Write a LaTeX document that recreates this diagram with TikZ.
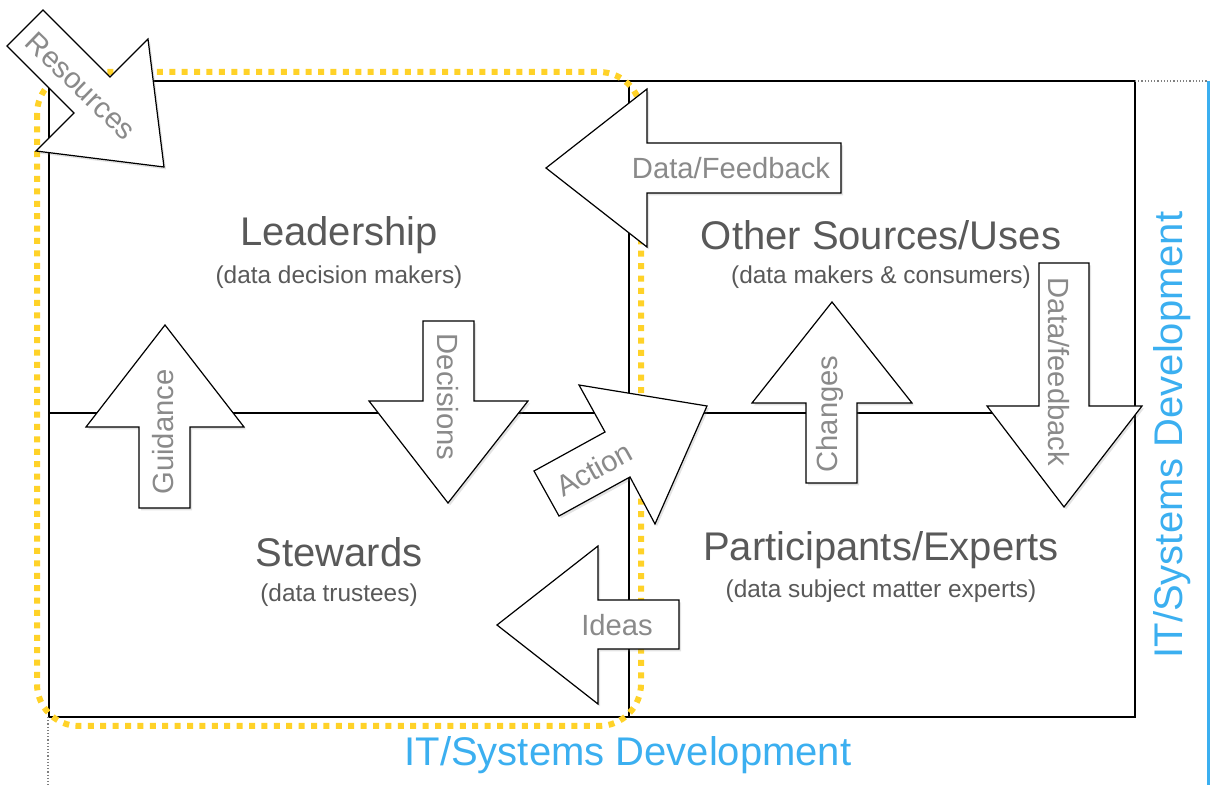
\documentclass[tikz,border=0pt]{standalone}
\usepackage{fontspec}
\setmainfont{Liberation Sans}
\usetikzlibrary{shadows}

\definecolor{titlegray}{HTML}{595959}
\definecolor{labelgray}{HTML}{8A8A8A}
\definecolor{itblue}{RGB}{59,175,240}
\definecolor{gold}{RGB}{255,210,40}

\tikzset{
  frame/.style={draw=black, line width=1pt},
  goldloop/.style={draw=gold, line width=3pt, dash pattern=on 3pt off 3.2pt, rounded corners=21pt},
  blockarrow/.style={draw=black, fill=white, line width=0.6pt, line join=miter,
    drop shadow={shadow xshift=1pt, shadow yshift=-1.2pt, opacity=0.22}},
  title/.style={text=titlegray, font=\fontsize{20}{24}\selectfont},
  subtitle/.style={text=titlegray, font=\fontsize{12.2}{14}\selectfont},
  arrowlabel/.style={text=labelgray, font=\fontsize{14.6}{17}\selectfont},
  itlabel/.style={text=itblue, font=\fontsize{20}{24}\selectfont}
}

\begin{document}
\begin{tikzpicture}[x=0.5pt, y=-0.5pt]
    \useasboundingbox (0,0) rectangle (1211,785);

    % quadrants
    \draw[frame] (49,81) rectangle (1135,717);
    \draw[frame] (629,81) -- (629,717);
    \draw[frame] (49,413) -- (1135,413);

    % dotted edges and IT border
    \draw[gray, densely dotted, line width=0.6pt] (1135,81) -- (1208,81);
    \draw[gray, densely dotted, line width=0.6pt] (48,717) -- (48,785);
    \draw[itblue, line width=1.5pt] (1208,81) -- (1208,785);

    % governance loop
    \draw[goldloop] (37,72) rectangle (641,726);

    % block arrows
    \draw[blockarrow] (43,10) -- (110,77) -- (148,39) -- (164,167) -- (36,151) -- (74,113) -- (7,46) -- cycle;
    \draw[blockarrow] (841,143) -- (647,143) -- (647,89) -- (546,168) -- (647,247) -- (647,193) -- (841,193) -- cycle;
    \draw[blockarrow] (139,508) -- (139,427) -- (86,427) -- (165,325) -- (244,427) -- (190,427) -- (190,508) -- cycle;
    \draw[blockarrow] (423,321) -- (474,321) -- (474,401) -- (528,401) -- (448,503) -- (369,401) -- (423,401) -- cycle;
    \draw[blockarrow] (534,471) -- (605,432) -- (579,385) -- (707,406) -- (655,524) -- (630,477) -- (559,516) -- cycle;
    \draw[blockarrow] (806,483) -- (806,403) -- (752,403) -- (832,302) -- (912,403) -- (857,403) -- (857,483) -- cycle;
    \draw[blockarrow] (1039,263) -- (1089,263) -- (1089,406) -- (1142,406) -- (1064,507) -- (987,406) -- (1039,406) -- cycle;
    \draw[blockarrow] (679,600) -- (598,600) -- (598,546) -- (497,625) -- (598,704) -- (598,649) -- (679,649) -- cycle;

    % arrow labels
    \node[arrowlabel, rotate=-44, inner sep=0pt] (resources) at (81,86) {Resources};
    \node[arrowlabel] (datafeedback) at (731,168) {Data/Feedback};
    \node[arrowlabel, rotate=90] (guidance) at (163,432) {Guidance};
    \node[arrowlabel, rotate=-90] (decisions) at (448,397) {Decisions};
    \node[arrowlabel, rotate=29, inner sep=0pt] (action) at (594,469) {Action};
    \node[arrowlabel, rotate=90] (changes) at (830,414) {Changes};
    \node[arrowlabel, rotate=-90] (datafeedbackdown) at (1059,372) {Data/feedback};
    \node[arrowlabel] (ideas) at (617,625) {Ideas};

    % quadrant titles
    \node[title] (leadership) at (339,235) {Leadership};
    \node[subtitle] (leadershipsub) at (339,277) {(data decision makers)};
    \node[title] (othersources) at (881,235) {Other Sources/Uses};
    \node[subtitle] (othersourcessub) at (881,277) {(data makers \& consumers)};
    \node[title] (stewards) at (339,552) {Stewards};
    \node[subtitle] (stewardssub) at (339,595) {(data trustees)};
    \node[title] (participants) at (881,550) {Participants/Experts};
    \node[subtitle] (participantssub) at (881,591) {(data subject matter experts)};

    % IT/Systems labels
    \node[itlabel] (itbottom) at (628,755) {IT/Systems Development};
    \node[itlabel, rotate=90] (itright) at (1172,435) {IT/Systems Development};
  \end{tikzpicture}
\end{document}
